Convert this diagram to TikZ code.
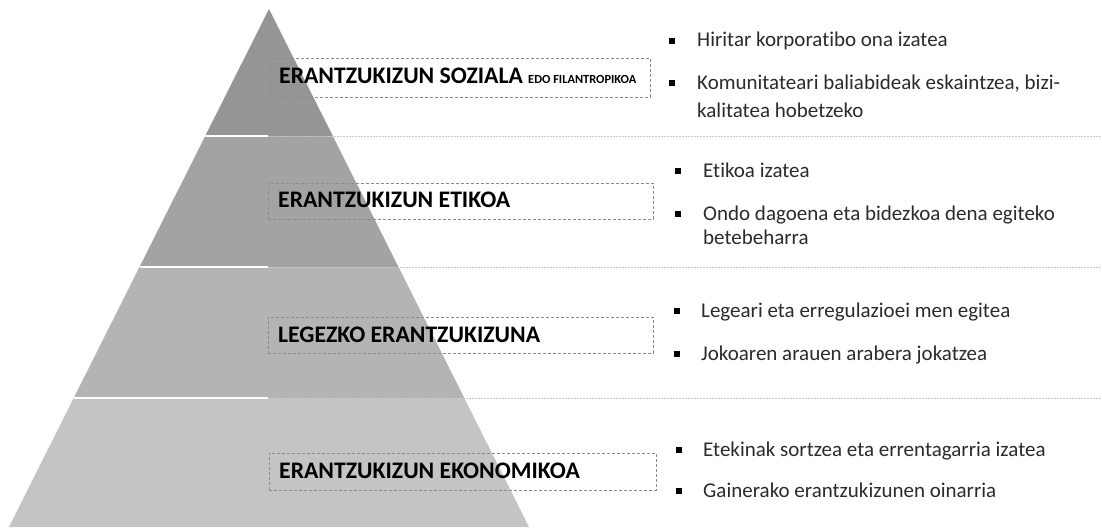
\documentclass[tikz,border=0pt]{standalone}
\usepackage{fontspec}
\setmainfont[RawFeature={-liga}]{Carlito}
\definecolor{layA}{HTML}{959595}
\definecolor{layB}{HTML}{A3A3A3}
\definecolor{layC}{HTML}{B4B4B4}
\definecolor{layD}{HTML}{C4C4C4}
\definecolor{boxline}{HTML}{8C8C8C}
\definecolor{dotline}{HTML}{C8C8C8}
\definecolor{txt}{HTML}{2B2B2B}
\begin{document}
\begin{tikzpicture}[x=1pt,y=-1pt,
  lblbox/.style={draw=boxline, dash pattern=on 3pt off 2pt, line width=0.8pt, inner sep=0pt},
  lbltext/.style={font=\fontsize{23.7}{28}\selectfont\bfseries, text=black, inner sep=0pt, anchor=base west},
  smalltext/.style={font=\fontsize{12.4}{14}\selectfont\bfseries, text=black, inner sep=0pt, anchor=base west},
  btext/.style={font=\fontsize{21}{25}\selectfont, text=txt, inner sep=0pt, anchor=base west},
  bsq/.style={fill=black, minimum size=5.5pt, inner sep=0pt},
  sepwhite/.style={draw=white, line width=2pt},
  sepdot/.style={draw=dotline, line width=1pt, dash pattern=on 1.5pt off 1.5pt}
]
\useasboundingbox (0,0) rectangle (1102,527);
\fill[white] (0,0) rectangle (1102,527);
% pyramid layers
\fill[layA] (269,9) -- (332.8,136) -- (205.2,136) -- cycle;
\fill[layB] (205.2,136) -- (332.8,136) -- (398.5,267) -- (139.5,267) -- cycle;
\fill[layC] (139.5,267) -- (398.5,267) -- (464.3,398) -- (73.7,398) -- cycle;
\fill[layD] (73.7,398) -- (464.3,398) -- (529,527) -- (9,527) -- cycle;
% separators
\coordinate (sL1) at (205.2,136); \coordinate (sC1) at (268,136); \coordinate (sR1) at (1102,136);
\coordinate (sL2) at (139.5,267); \coordinate (sC2) at (268,267); \coordinate (sR2) at (1102,267);
\coordinate (sL3) at (73.7,398);  \coordinate (sC3) at (268,398); \coordinate (sR3) at (1102,398);
\draw[sepwhite] (sL1) -- (sC1);
\draw[sepwhite] (sL2) -- (sC2);
\draw[sepwhite] (sL3) -- (sC3);
\draw[sepdot] (sC1) -- (sR1);
\draw[sepdot] (sC2) -- (sR2);
\draw[sepdot] (sC3) -- (sR3);
% label boxes
\node[lblbox, minimum width=380pt, minimum height=39pt] (box1) at (460,77.5) {};
\node[lblbox, minimum width=385pt, minimum height=36pt] (box2) at (460.5,201) {};
\node[lblbox, minimum width=385pt, minimum height=36pt] (box3) at (460.5,335) {};
\node[lblbox, minimum width=387pt, minimum height=37pt] (box4) at (462.5,471.5) {};
\node[lbltext] (lab1) at (279,83) {ERANTZUKIZUN SOZIALA};
\node[smalltext] (lab1b) at (528,83) {EDO FILANTROPIKOA};
\node[lbltext] (lab2) at (278,207) {ERANTZUKIZUN ETIKOA};
\node[lbltext] (lab3) at (278,342) {LEGEZKO ERANTZUKIZUNA};
\node[lbltext] (lab4) at (279,478) {ERANTZUKIZUN EKONOMIKOA};
% bullets layer 1
\node[bsq] (q11) at (672,41) {};
\node[btext] (t11) at (697,47) {Hiritar korporatibo ona izatea};
\node[bsq] (q12) at (672,83) {};
\node[btext] (t12) at (697,89) {Komunitateari baliabideak eskaintzea, bizi-};
\node[btext] (t12b) at (697,117) {kalitatea hobetzeko};
% layer 2
\node[bsq] (q21) at (678,171) {};
\node[btext] (t21) at (703,177) {Etikoa izatea};
\node[bsq] (q22) at (678,214) {};
\node[btext] (t22) at (703,220) {Ondo dagoena eta bidezkoa dena egiteko};
\node[btext] (t22b) at (703,244) {betebeharra};
% layer 3
\node[bsq] (q31) at (677,311) {};
\node[btext] (t31) at (701,317) {Legeari eta erregulazioei men egitea};
\node[bsq] (q32) at (677,354) {};
\node[btext] (t32) at (701,360) {Jokoaren arauen arabera jokatzea};
% layer 4
\node[bsq] (q41) at (679,450) {};
\node[btext] (t41) at (703,456) {Etekinak sortzea eta errentagarria izatea};
\node[bsq] (q42) at (679,491) {};
\node[btext] (t42) at (703,497) {Gainerako erantzukizunen oinarria};
\end{tikzpicture}
\end{document}
